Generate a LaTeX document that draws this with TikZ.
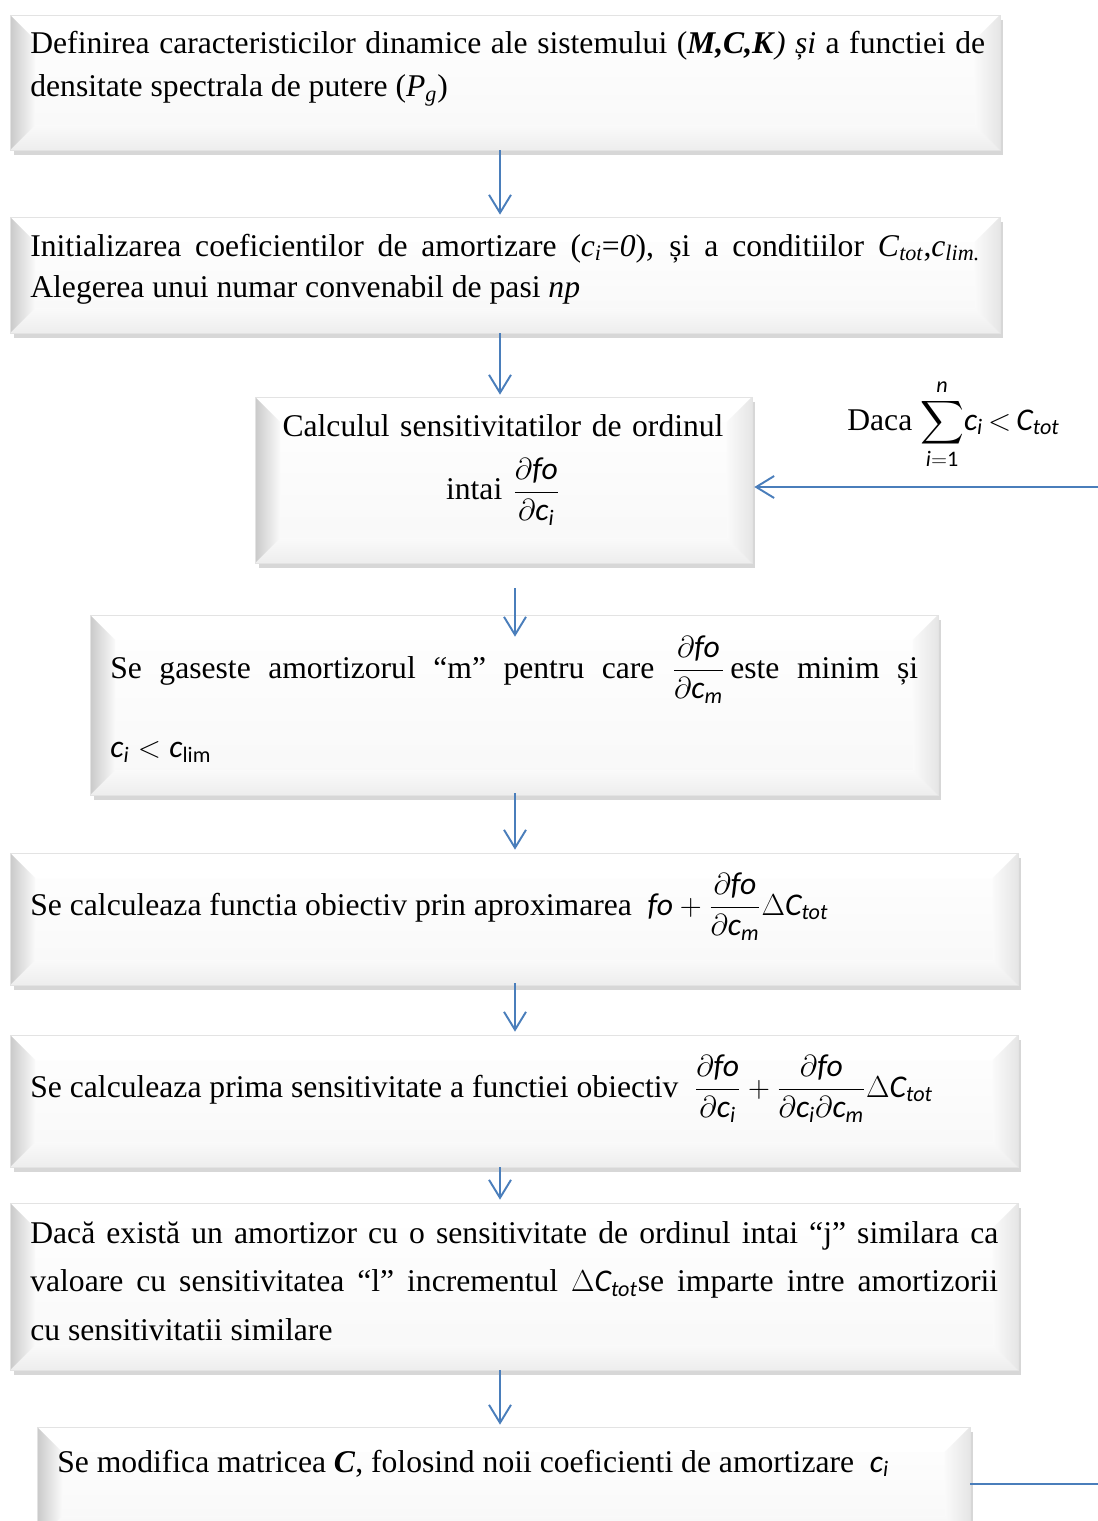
\documentclass[tikz,border=0pt]{standalone}
\usepackage{amsmath}
\usepackage{fontspec}
\setmainfont{Liberation Serif}
\newfontfamily\carlito{Carlito}
\newcommand{\mv}[1]{\text{\carlito\itshape #1}}
\usetikzlibrary{arrows.meta,shadows,calc}
\definecolor{flowblue}{RGB}{74,126,187}
\lineskiplimit=-100pt
\tikzset{
  bevelbox/.style={draw=gray!22, top color=white, bottom color=gray!6, inner sep=0pt,
    drop shadow={shadow xshift=2pt, shadow yshift=-3pt, fill=gray!70, opacity=.45},
    path picture={
      \coordinate (sw) at (path picture bounding box.south west);
      \coordinate (se) at (path picture bounding box.south east);
      \coordinate (nw) at (path picture bounding box.north west);
      \coordinate (ne) at (path picture bounding box.north east);
      \fill[white] (nw) -- ++(0.5cm,-0.5cm) -- ($(ne)+(-0.5cm,-0.5cm)$) -- (ne) -- cycle;
      \shade[top color=gray!4, bottom color=gray!14] (sw) -- ++(0.5cm,0.5cm) -- ($(se)+(-0.5cm,0.5cm)$) -- (se) -- cycle;
      \shade[left color=gray!42, right color=gray!4] (sw) -- ++(0.5cm,0.5cm) -- ($(nw)+(0.5cm,-0.5cm)$) -- (nw) -- cycle;
      \shade[left color=gray!4, right color=gray!20] (se) -- ++(-0.5cm,0.5cm) -- ($(ne)+(-0.5cm,-0.5cm)$) -- (ne) -- cycle;
    }},
  txt/.style={anchor=base west, inner sep=0pt, align=justify,
    font=\fontsize{18}{25}\selectfont},
  flowarrow/.style={draw=flowblue, line width=1.1pt,
    -{Straight Barb[length=0.36cm,width=0.44cm,line width=1.1pt]}}
}
\begin{document}
\begin{tikzpicture}[x=0.02cm, y=-0.02cm]
\useasboundingbox (0,0) rectangle (1098,1521);
\node[bevelbox, minimum width=19.8cm, minimum height=2.7cm] (b1) at (505,82.5) {};
\node[bevelbox, minimum width=19.8cm, minimum height=2.32cm] (b2) at (505,275) {};
\node[bevelbox, minimum width=9.94cm, minimum height=3.32cm] (b3) at (503.5,480) {};
\node[bevelbox, minimum width=16.96cm, minimum height=3.6cm] (b4) at (514,705) {};
\foreach \n/\y/\h in {5/919/2.64, 6/1101/2.64, 7/1286.5/3.34}
  \node[bevelbox, minimum width=20.16cm, minimum height=\h cm] (b\n) at (514,\y) {};
\node[bevelbox, minimum width=18.66cm, minimum height=2.28cm] (b8) at (503.5,1484) {};

\node[txt, text width=19.1cm] (t1) at (30,53) {Definirea caracteristicilor dinamice ale sistemului (\textbf{\textit{M,C,K}}\textit{) și} a functiei de\linebreak densitate spectrala de putere (\textit{P}$_{\textit{g}}$)};
\node[txt, text width=19cm, font=\fontsize{18}{23.9}\selectfont] (t2) at (30,256) {Initializarea coeficientilor de amortizare (\textit{c}$_{\textit{i}}$=\textit{0}), și a conditiilor \textit{C}$_{\textit{tot}}$,\textit{c}$_{\textit{lim.}}$\linebreak Alegerea unui numar convenabil de pasi \textit{np}};
\node[txt, anchor=base, text width=9.6cm, align=center, font=\fontsize{18}{36.4}\selectfont] (t3) at (503,436) {Calculul sensitivitatilor de ordinul\\ intai $\dfrac{\partial\mv{fo}}{\partial\mv{c}_{\mv{i}}}$};
\node[txt, text width=16.16cm, font=\fontsize{18}{45.5}\selectfont] (t4) at (110,678) {Se gaseste amortizorul “m” pentru care $\dfrac{\partial\mv{fo}}{\partial\mv{c}_{\mv{m}}}$\,este minim și\linebreak $\mv{c}_{\mv{i}}<\mv{c}_{\text{\carlito lim}}$};
\node[txt] (t5) at (30,915) {Se calculeaza functia obiectiv prin aproximarea \ $\mv{fo}+\dfrac{\partial\mv{fo}}{\partial\mv{c}_{\mv{m}}}\Delta\mv{C}_{\mv{tot}}$};
\node[txt] (t6) at (30,1097) {Se calculeaza prima sensitivitate a functiei obiectiv \ $\dfrac{\partial\mv{fo}}{\partial\mv{c}_{\mv{i}}}+\dfrac{\partial\mv{fo}}{\partial\mv{c}_{\mv{i}}\partial\mv{c}_{\mv{m}}}\Delta\mv{C}_{\mv{tot}}$};
\node[txt, text width=19.36cm, font=\fontsize{18}{27.6}\selectfont] (t7) at (30,1243) {Dacă există un amortizor cu o sensitivitate de ordinul intai “j” similara ca\linebreak valoare cu sensitivitatea “l” incrementul $\Delta\mv{C}_{\mv{tot}}$se imparte intre amortizorii\linebreak cu sensitivitatii similare};
\node[txt] (t8) at (57,1472) {Se modifica matricea \textbf{\textit{C}}, folosind noii coeficienti de amortizare \ $\mv{c}_{\mv{i}}$};
\node[txt] (cond) at (847,430) {Daca $\displaystyle\sum\limits_{\mv{i}=\text{\carlito 1}}^{\mv{n}}\!\mv{c}_{\mv{i}}\,{<}\,\mv{C}_{\mv{tot}}$};

\coordinate (ax) at (500,0);
\coordinate (bx) at (515,0);
\coordinate (fb) at (1120,487);
\draw[flowarrow] (b1.south -| ax) -- ($(b2.north -| ax)+(0,-2)$);
\draw[flowarrow] (b2.south -| ax) -- ($(b3.north -| ax)+(0,-2)$);
\draw[flowarrow] ($(b3.south -| bx)+(0,25)$) -- ($(b4.north -| bx)+(0,22)$);
\draw[flowarrow] ($(b4.south -| bx)+(0,-2)$) -- ($(b5.north -| bx)+(0,-3)$);
\draw[flowarrow] ($(b5.south -| bx)+(0,-2)$) -- ($(b6.north -| bx)+(0,-3)$);
\draw[flowarrow] (b6.south -| ax) -- ($(b7.north -| ax)+(0,-3)$);
\draw[flowarrow] (b7.south -| ax) -- ($(b8.north -| ax)+(0,-2)$);
\draw[flowarrow] (b8.east) -| (fb) -- ($(fb -| b3.east)+(2,0)$);
\end{tikzpicture}
\end{document}
